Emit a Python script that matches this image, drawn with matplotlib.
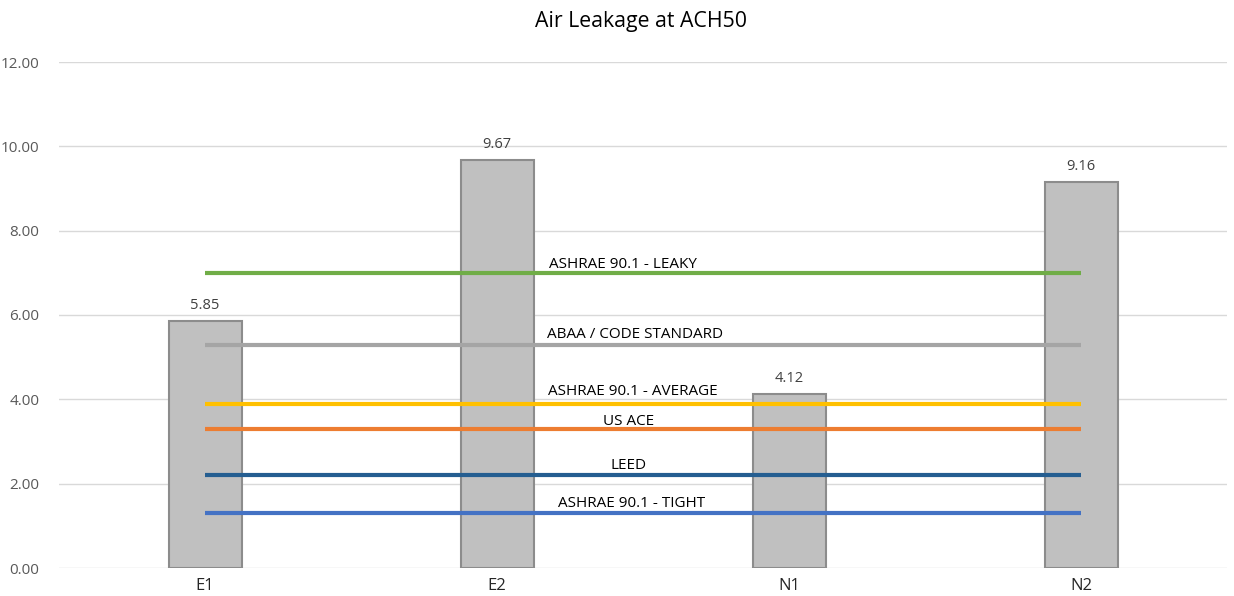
import matplotlib
matplotlib.use("Agg")
import matplotlib.pyplot as plt
import numpy as np

plt.rcParams['font.family'] = ['Open Sans', 'DejaVu Sans']

categories = ["E1", "E2", "N1", "N2"]
values = [5.85, 9.67, 4.12, 9.16]

ref_names = ["ASHRAE 90.1 - LEAKY", "ABAA / CODE STANDARD", "ASHRAE 90.1 - AVERAGE",
             "US ACE", "LEED", "ASHRAE 90.1 - TIGHT"]
ref_values = [7.0, 5.3, 3.9, 3.3, 2.2, 1.3]
ref_colors = ["#70AD47", "#A5A5A5", "#FFC000", "#ED7D31", "#255E91", "#4472C4"]
label_offsets_pt = [3.6, 5.0, 5.8, 2.9, 4.3, 4.3]
label_x = [1.431, 1.471, 1.464, 1.450, 1.450, 1.462]

fig = plt.figure(figsize=(12.34, 5.96), dpi=100)
ax = fig.add_axes([59 / 1234, 28 / 596, 1168 / 1234, 506 / 596])

x = np.arange(len(categories))
ax.bar(x, values, width=0.25, color="#C0C0C0", edgecolor="#8C8C8C", linewidth=1.5, zorder=2)
for xi, v in zip(x, values):
    ax.annotate(f"{v:.2f}", (xi, v), xytext=(0, 8.8), textcoords="offset points",
                ha="center", va="baseline", fontsize=10.5, color="#404040")

for name, val, col, off, lx in zip(ref_names, ref_values, ref_colors, label_offsets_pt, label_x):
    ax.plot([x[0], x[-1]], [val, val], color=col, linewidth=3, solid_capstyle="butt", zorder=3)
    ax.annotate(name, (lx, val), xytext=(0, off), textcoords="offset points",
                ha="center", va="baseline", fontsize=11, color="#000000", zorder=4)

ax.set_xlim(-0.5, 3.5)
ax.set_ylim(0, 12)
ax.set_yticks(np.arange(0, 12.01, 2))
ax.set_yticklabels([f"{t:.2f}" for t in np.arange(0, 12.01, 2)])
ax.set_xticks(x)
ax.set_xticklabels(categories)
ax.tick_params(axis="both", length=0, labelsize=11, colors="#404040")
ax.tick_params(axis="y", pad=14, colors="#595959")
ax.tick_params(axis="x", pad=7, colors="#262626", labelsize=12)
ax.grid(axis="y", color="#D9D9D9", linewidth=1, zorder=0)
ax.set_axisbelow(True)
for s in ax.spines.values():
    s.set_visible(False)

fig.text(641.5 / 1234, 1 - 27 / 596, "Air Leakage at ACH50", ha="center", va="baseline",
         fontsize=15.3, color="#000000")

fig.savefig("out.png", dpi=100)
